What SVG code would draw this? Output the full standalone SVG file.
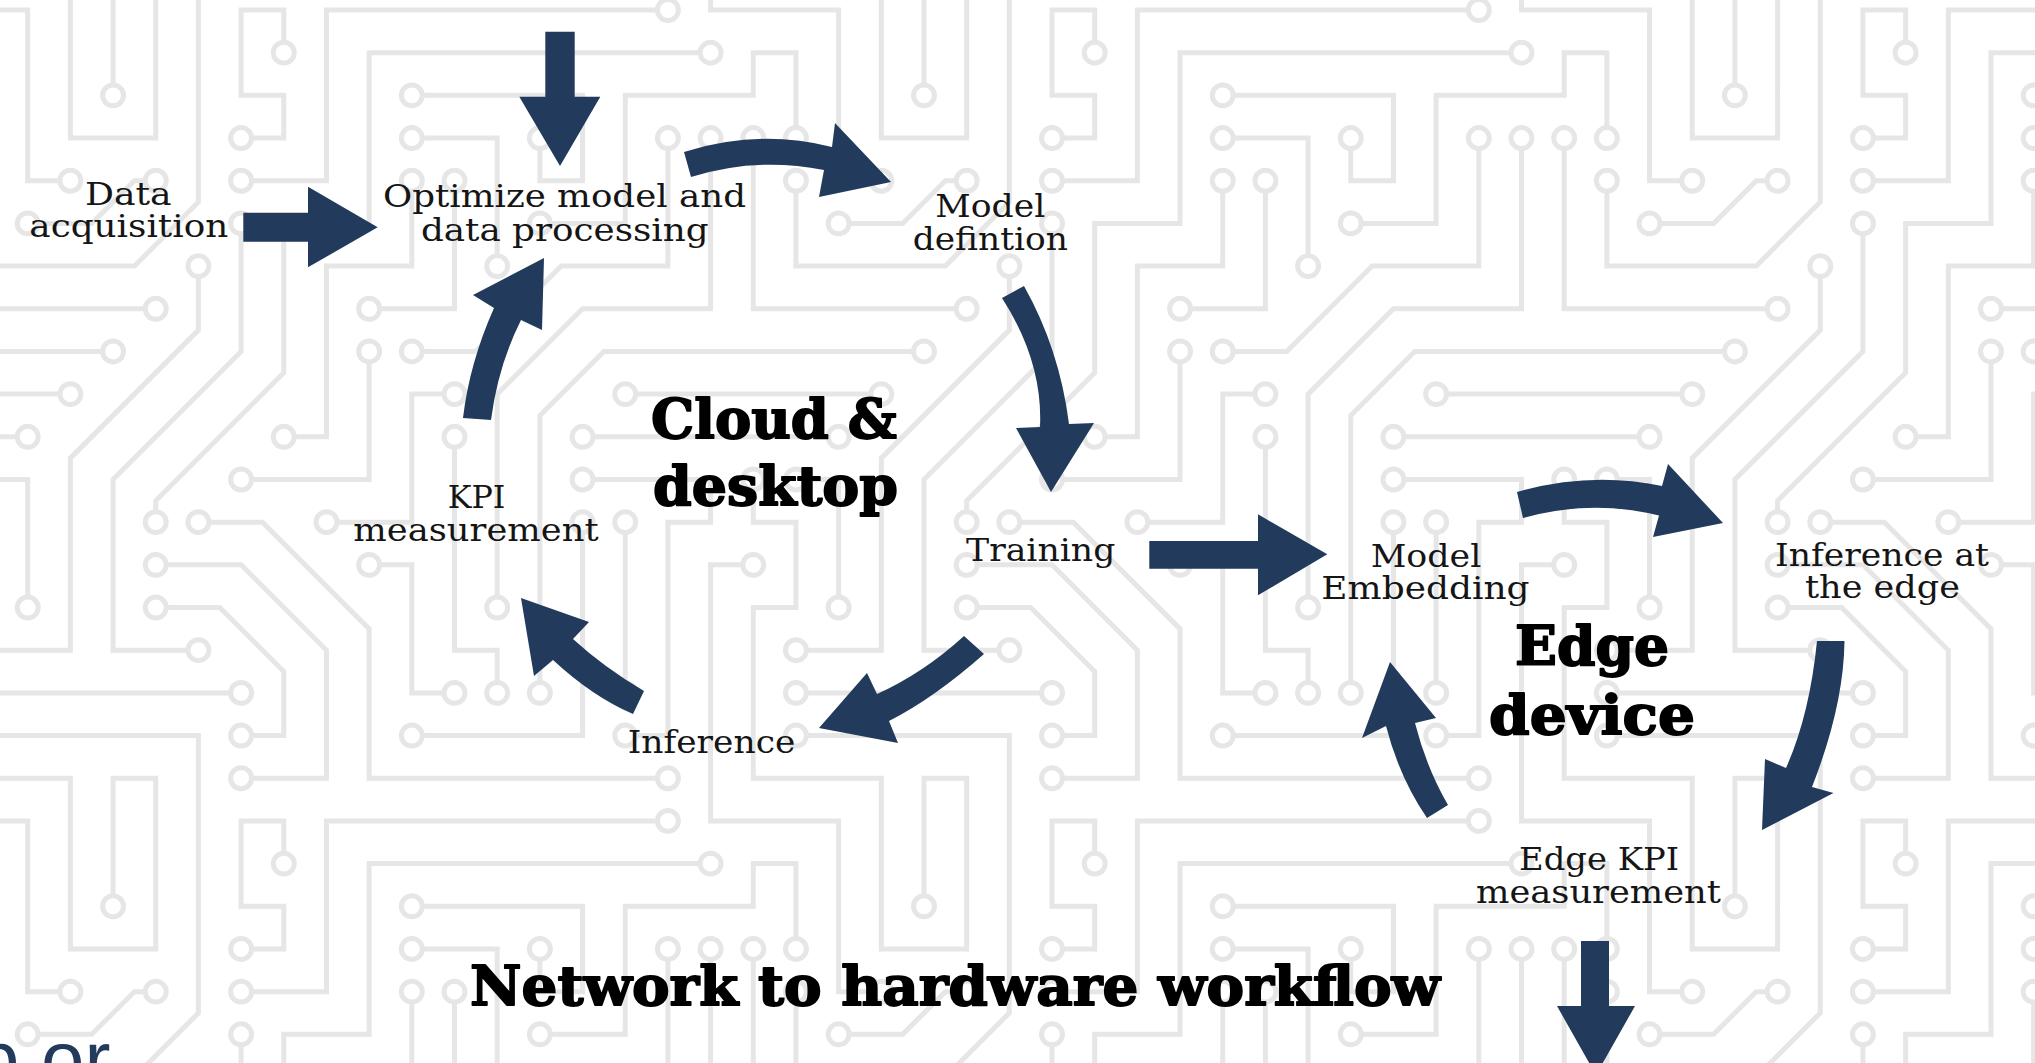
<svg xmlns="http://www.w3.org/2000/svg" xmlns:xlink="http://www.w3.org/1999/xlink" width="2035" height="1063" viewBox="0 0 2035 1063">
<style>
.lbl{font-family:"DejaVu Serif","Liberation Serif",serif;font-size:31px;fill:#151515;text-anchor:middle}
.ttl{font-family:"DejaVu Serif","Liberation Serif",serif;font-weight:bold;font-size:55px;fill:#000;stroke:#000;stroke-width:1.8px;stroke-linejoin:round;text-anchor:middle}
.arr{fill:#223b5d}
</style>
<defs>
<g id="tl" fill="none" stroke="#e6e6e6" stroke-width="0.117">
<polyline points="17,13 16,13 16,19 19,19 19,23 20,23"/>
<polyline points="2,2 2,-1 3,-1 3,3 1,3 1,-1 -2,-1 -2,-5 -1,-5 -1,-7 -2,-7 -2,-8"/>
<polyline points="-1,-2 4,-2 4,4.5 2.5,6 -1,6 -1,4"/>
<polyline points="3,4 2.5,4 1.5,5 0,5"/>
<polyline points="5,3 6,3 6,2 5,2 5,0 6,0 6,1"/>
<polyline points="5,4 7,4 7,0 15,0"/>
<polyline points="16,1 8,1 8,5 6,5 6,8.5 3,11.5 3,12"/>
<polyline points="9,4 9,6 7,6 7,10 6,10"/>
<polyline points="4,6 4,7.5 1,10.5 1,15 -1,15"/>
<polyline points="3,7 -2,7 -2,3"/>
<polyline points="2,8 -5.5,8 -7,9.5 -7,16"/>
<polyline points="1,9 -5,9"/>
<polyline points="5,5 5,8 2,11 2,15 4,15"/>
<polyline points="8,7 10,7 10,4"/>
<polyline points="8,8 8,11 5,11"/>
<polyline points="12,5 14,5 14,2 17,2 17,1 18,1 18,3"/>
<polyline points="9,2 13,2 13,4 12,4 12,3"/>
<polyline points="9,3 11,3 11,6"/>
<polyline points="9,8 10.5,8 12.5,6 15,6 15,3"/>
<polyline points="16,3 16,7 13,7 11,9 11,14"/>
<polyline points="10,9 9,9 9,12 7,12"/>
<polyline points="0,10 -6,10"/>
<polyline points="0,14 0,11 -1,11"/>
<polyline points="4,12 5.5,12 8,14.5 8,18 15,18"/>
<polyline points="3,13 5,13 7,15 7,18 5,18"/>
<polyline points="3,14 4.5,14 6,15.5 6,17 5,17"/>
<polyline points="8,13 9,13 9,16 10,16"/>
<polyline points="5,16 -1,16"/>
<polyline points="10,10 10,15 11,15 11,16"/>
<polyline points="13,11 16,11 16,12 15,12 15,17 14,17"/>
<polyline points="13,12 13,17 9,17"/>
<polyline points="14,12 14,16"/>
</g>
<g id="tc" fill="#fff" stroke="#e6e6e6" stroke-width="0.117">
<circle cx="17" cy="13" r="0.245"/><circle cx="20" cy="23" r="0.245"/><circle cx="2" cy="2" r="0.245"/><circle cx="-2" cy="-8" r="0.245"/>
<circle cx="-1" cy="-2" r="0.245"/><circle cx="-1" cy="4" r="0.245"/><circle cx="3" cy="4" r="0.245"/><circle cx="0" cy="5" r="0.245"/>
<circle cx="5" cy="3" r="0.245"/><circle cx="6" cy="1" r="0.245"/><circle cx="5" cy="4" r="0.245"/><circle cx="15" cy="0" r="0.245"/>
<circle cx="16" cy="1" r="0.245"/><circle cx="3" cy="12" r="0.245"/><circle cx="9" cy="4" r="0.245"/><circle cx="6" cy="10" r="0.245"/>
<circle cx="4" cy="6" r="0.245"/><circle cx="-1" cy="15" r="0.245"/><circle cx="3" cy="7" r="0.245"/><circle cx="-2" cy="3" r="0.245"/>
<circle cx="2" cy="8" r="0.245"/><circle cx="-7" cy="16" r="0.245"/><circle cx="1" cy="9" r="0.245"/><circle cx="-5" cy="9" r="0.245"/>
<circle cx="5" cy="5" r="0.245"/><circle cx="4" cy="15" r="0.245"/><circle cx="8" cy="7" r="0.245"/><circle cx="10" cy="4" r="0.245"/>
<circle cx="8" cy="8" r="0.245"/><circle cx="5" cy="11" r="0.245"/><circle cx="12" cy="5" r="0.245"/><circle cx="18" cy="3" r="0.245"/>
<circle cx="9" cy="2" r="0.245"/><circle cx="12" cy="3" r="0.245"/><circle cx="9" cy="3" r="0.245"/><circle cx="11" cy="6" r="0.245"/>
<circle cx="9" cy="8" r="0.245"/><circle cx="15" cy="3" r="0.245"/><circle cx="16" cy="3" r="0.245"/><circle cx="11" cy="14" r="0.245"/>
<circle cx="10" cy="9" r="0.245"/><circle cx="7" cy="12" r="0.245"/><circle cx="0" cy="10" r="0.245"/><circle cx="-6" cy="10" r="0.245"/>
<circle cx="0" cy="14" r="0.245"/><circle cx="-1" cy="11" r="0.245"/><circle cx="4" cy="12" r="0.245"/><circle cx="15" cy="18" r="0.245"/>
<circle cx="3" cy="13" r="0.245"/><circle cx="5" cy="18" r="0.245"/><circle cx="3" cy="14" r="0.245"/><circle cx="5" cy="17" r="0.245"/>
<circle cx="8" cy="13" r="0.245"/><circle cx="10" cy="16" r="0.245"/><circle cx="5" cy="16" r="0.245"/><circle cx="-1" cy="16" r="0.245"/>
<circle cx="10" cy="10" r="0.245"/><circle cx="11" cy="16" r="0.245"/><circle cx="13" cy="11" r="0.245"/><circle cx="14" cy="17" r="0.245"/>
<circle cx="13" cy="12" r="0.245"/><circle cx="9" cy="17" r="0.245"/><circle cx="14" cy="12" r="0.245"/><circle cx="14" cy="16" r="0.245"/>
</g>
</defs>
<rect width="2035" height="1063" fill="#fff"/>
<g id="circuit-background" transform="translate(27.7,10) scale(42.68)">
<use href="#tl" x="-19" y="-19"/><use href="#tl" x="0" y="-19"/><use href="#tl" x="19" y="-19"/><use href="#tl" x="38" y="-19"/>
<use href="#tl" x="-19" y="0"/><use href="#tl" x="0" y="0"/><use href="#tl" x="19" y="0"/><use href="#tl" x="38" y="0"/>
<use href="#tl" x="-19" y="19"/><use href="#tl" x="0" y="19"/><use href="#tl" x="19" y="19"/><use href="#tl" x="38" y="19"/>
<use href="#tc" x="-19" y="-19"/><use href="#tc" x="0" y="-19"/><use href="#tc" x="19" y="-19"/><use href="#tc" x="38" y="-19"/>
<use href="#tc" x="-19" y="0"/><use href="#tc" x="0" y="0"/><use href="#tc" x="19" y="0"/><use href="#tc" x="38" y="0"/>
<use href="#tc" x="-19" y="19"/><use href="#tc" x="0" y="19"/><use href="#tc" x="19" y="19"/><use href="#tc" x="38" y="19"/>
</g>
<g id="connectors">
<polygon class="arr" points="243.3,212.7 308,212.7 308,186.7 377.7,227.3 308,267.3 308,241.7 243.3,241.7"/>
<polygon class="arr" points="545.3,31.7 574.7,31.7 574.7,96.7 600.3,96.7 560,166 519.3,96.7 545.3,96.7"/>
<path class="arr" d="M684,152 Q758,128.5 832,147 L835,123 L891,182 L819,197 L824,170 Q756.5,156.5 691,177 Z"/>
<path class="arr" d="M1002,298 L1024,286 Q1059.5,349 1069,424 L1094,423 L1051,492 L1016,428 L1040,427 Q1043,361.5 1002,298 Z"/>
<polygon class="arr" points="1149.3,541 1258,541 1258,514.3 1327.3,554.3 1258,595.3 1258,568.7 1149.3,568.7"/>
<path class="arr" d="M964,636 Q923.5,673 877,694 L867,673 L819,728 L898,743 L889,721 Q933.5,698.5 984,654 Z"/>
<path class="arr" d="M644,691 Q603.5,667 573,639 L589,622 L521,598 L534,676 L553,660 Q593,697 633,714 Z"/>
<path class="arr" d="M463,418 Q469.5,363 494,308 L473,295 L544,258 L542,330 L521,320 Q498,366 491,420 Z"/>
<path class="arr" d="M1517,492 Q1590.5,471 1662,486 L1668,464 L1723,523 L1653,537 L1659,515.5 Q1591,499 1523,518 Z"/>
<path class="arr" d="M1817,641 L1844.5,641 Q1843.75,706 1812,787 L1833.5,793 L1762,830 L1765,759 L1786,768 Q1809.5,715.5 1817,641 Z"/>
<path class="arr" d="M1427,818 Q1399.5,778 1386,726 L1362,738 L1390,662 L1436,718 L1415,723 Q1426.5,768 1448,805 Z"/>
<polygon class="arr" points="1581,941 1609,941 1609,1006 1635,1006 1596,1075 1557,1006 1581,1006"/>
</g>
<g id="node-data-acquisition"><text class="lbl" x="128.3" y="205" textLength="86.7" lengthAdjust="spacingAndGlyphs">Data</text><text class="lbl" x="128.8" y="237.3" textLength="199" lengthAdjust="spacingAndGlyphs">acquisition</text></g>
<g id="node-optimize"><text class="lbl" x="564.5" y="207.3" textLength="363" lengthAdjust="spacingAndGlyphs">Optimize model and</text><text class="lbl" x="564.8" y="240.7" textLength="287.7" lengthAdjust="spacingAndGlyphs">data processing</text></g>
<g id="node-model-definition"><text class="lbl" x="990.3" y="217.3" textLength="110" lengthAdjust="spacingAndGlyphs">Model</text><text class="lbl" x="990.3" y="250" textLength="155.3" lengthAdjust="spacingAndGlyphs">defintion</text></g>
<g id="node-training"><text class="lbl" x="1040.7" y="561" textLength="149.3" lengthAdjust="spacingAndGlyphs">Training</text></g>
<g id="node-model-embedding"><text class="lbl" x="1426" y="566.7" textLength="110.6" lengthAdjust="spacingAndGlyphs">Model</text><text class="lbl" x="1425.5" y="599.3" textLength="208.3" lengthAdjust="spacingAndGlyphs">Embedding</text></g>
<g id="node-kpi"><text class="lbl" x="476.5" y="507.7" textLength="57.7" lengthAdjust="spacingAndGlyphs">KPI</text><text class="lbl" x="476" y="541" textLength="245.3" lengthAdjust="spacingAndGlyphs">measurement</text></g>
<g id="node-inference"><text class="lbl" x="711.5" y="752.7" textLength="167.7" lengthAdjust="spacingAndGlyphs">Inference</text></g>
<g id="node-inference-edge"><text class="lbl" x="1882" y="566" textLength="214" lengthAdjust="spacingAndGlyphs">Inference at</text><text class="lbl" x="1882.5" y="598" textLength="155" lengthAdjust="spacingAndGlyphs">the edge</text></g>
<g id="node-edge-kpi"><text class="lbl" x="1599" y="870" textLength="160" lengthAdjust="spacingAndGlyphs">Edge KPI</text><text class="lbl" x="1598.5" y="903" textLength="245" lengthAdjust="spacingAndGlyphs">measurement</text></g>
<g id="label-cloud"><text class="ttl" x="774" y="438" textLength="246" lengthAdjust="spacingAndGlyphs">Cloud &amp;</text><text class="ttl" x="775.5" y="505" textLength="245" lengthAdjust="spacingAndGlyphs">desktop</text></g>
<g id="label-edge"><text class="ttl" x="1592" y="665" textLength="154" lengthAdjust="spacingAndGlyphs">Edge</text><text class="ttl" x="1592" y="734" textLength="206" lengthAdjust="spacingAndGlyphs">device</text></g>
<g id="title"><text class="ttl" x="955" y="1005" textLength="970" lengthAdjust="spacingAndGlyphs">Network to hardware workflow</text></g>
<g id="cut-text"><text x="-24" y="1086" font-family="'Liberation Sans',Arial,sans-serif" font-size="78" fill="#223b5d">p or</text></g>
</svg>
